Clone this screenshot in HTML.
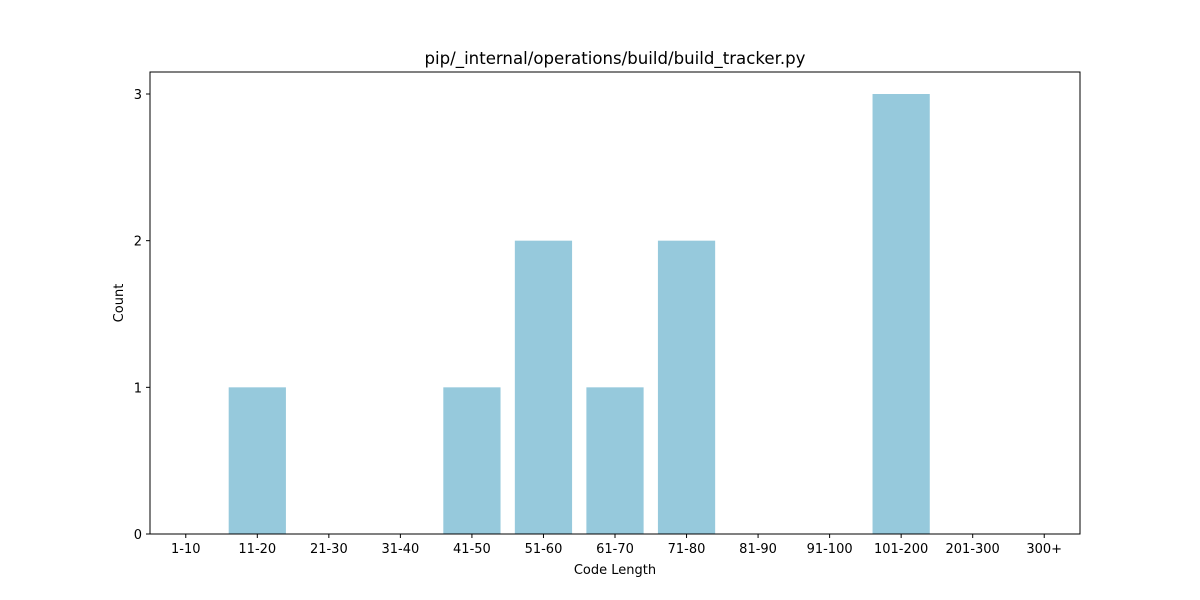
<!DOCTYPE html>
<html><head><meta charset="utf-8"><style>body{margin:0;background:#fff}svg{display:block;font-family:"DejaVu Sans","Liberation Sans",sans-serif}</style></head>
<body>
<svg id="chart" width="1200" height="600">
<rect width="1200" height="600" fill="#fff"/>
<text x="615" y="64" font-size="16.6" text-anchor="middle">pip/_internal/operations/build/build_tracker.py</text>
<g id="bars"></g>
<g id="xticks"></g>
<g id="yticks"></g>
<rect x="150" y="72" width="930" height="462" fill="none" stroke="#000" stroke-width="1"/>
<text x="615" y="574" font-size="13" text-anchor="middle">Code Length</text>
<text x="123" y="303" font-size="13" text-anchor="middle" transform="rotate(-90 123 303)">Count</text>
</svg>
<script>
const categories = ["1-10","11-20","21-30","31-40","41-50","51-60","61-70","71-80","81-90","91-100","101-200","201-300","300+"];
const counts = [0,1,0,0,1,2,1,2,0,0,3,0,0];
const yTicks = [0,1,2,3];
const NS="http://www.w3.org/2000/svg";
const L=150,R=1080,T=72,B=534,yMax=3.15;
const step=(R-L)/categories.length;
const xs=i=>L+(i+0.5)*step;
const ys=v=>B-(v/yMax)*(B-T);
function mk(t,a){const e=document.createElementNS(NS,t);for(const k in a)e.setAttribute(k,a[k]);return e;}
const gb=document.getElementById('bars'),gx=document.getElementById('xticks'),gy=document.getElementById('yticks');
categories.forEach((c,i)=>{
  const w=step*0.8;
  const r=mk('rect',{x:xs(i)-w/2,y:ys(counts[i]),width:w,height:B-ys(counts[i]),fill:'#96c9dc'});
  
  
  gb.appendChild(r);
  const tk=mk('line',{x1:xs(i),x2:xs(i),y1:B,y2:B+4,stroke:'#000'});
  
  
  gx.appendChild(tk);
  const t=mk('text',{x:xs(i),y:B+19,'font-size':13,'text-anchor':'middle'});
  t.textContent=c;
  
  
  gx.appendChild(t);
});
yTicks.forEach(v=>{
  const tk=mk('line',{x1:L-4,x2:L,y1:ys(v),y2:ys(v),stroke:'#000'});
  
  
  gy.appendChild(tk);
  const t=mk('text',{x:L-8,y:ys(v)+5,'font-size':13,'text-anchor':'end'});
  t.textContent=v;
  
  
  gy.appendChild(t);
});
</script>
</body></html>
